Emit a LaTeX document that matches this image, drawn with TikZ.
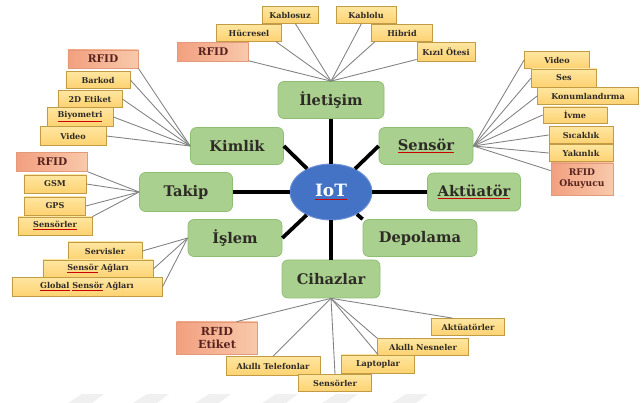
\documentclass[tikz,border=0pt]{standalone}
\usepackage{fontspec}
\setmainfont{DejaVu Serif}
\usetikzlibrary{shapes.geometric}

\definecolor{txt}{HTML}{2E2A26}
\definecolor{groupfill}{HTML}{A9D08E}
\definecolor{groupline}{HTML}{8EBE72}
\definecolor{hubfill}{HTML}{4472C4}
\definecolor{hubline}{HTML}{6F93D8}
\definecolor{leaftop}{HTML}{FFE6A0}
\definecolor{leafbot}{HTML}{FDD271}
\definecolor{leafline}{HTML}{C29B45}
\definecolor{tagleft}{HTML}{F2A07F}
\definecolor{tagright}{HTML}{F8C9AB}
\definecolor{tagline}{HTML}{E39A7A}
\definecolor{twigline}{HTML}{828282}

% red squiggle under words the spell checker marked
\newcommand\spellmark[2][txt]{{\color{red!80!black}\underline{\color{#1}#2}}}

\tikzset{
  hub/.style={ellipse, draw=hubline, fill=hubfill, line width=0.8pt,
    minimum width=2.46cm, minimum height=1.68cm, inner sep=0pt,
    font=\fontsize{14.5}{16}\selectfont\bfseries, text=white},
  group/.style={rectangle, rounded corners=5pt, draw=groupline, fill=groupfill,
    line width=0.6pt, inner sep=0pt, minimum width=2.82cm, minimum height=1.11cm,
    font=\fontsize{12.5}{14}\selectfont\bfseries, text=txt},
  leaf/.style={rectangle, draw=leafline, top color=leaftop, bottom color=leafbot,
    line width=0.6pt, inner sep=0pt, minimum height=0.51cm,
    font=\fontsize{6.9}{7.5}\selectfont\bfseries, text=txt},
  tag/.style={rectangle, draw=tagline, left color=tagleft, right color=tagright,
    line width=0.6pt, inner sep=0pt, minimum height=0.57cm, align=center,
    font=\fontsize{9}{10.5}\selectfont\bfseries, text=txt!80!red},
  spoke/.style={line width=3.2pt, black},
  twig/.style={line width=0.75pt, twigline},
}

\begin{document}
\begin{tikzpicture}[x=0.03cm, y=-0.03cm]
  \useasboundingbox (0,0) rectangle (643,403);

  % faint chevrons along the bottom edge
  \foreach \xa in {68,133,195,262,322,392}
    \fill [black!6] (\xa,403) -- (\xa+14,394) -- (\xa+36,394) -- (\xa+24,403) -- cycle;%

  % Drawing the centre and the eight groups
  \node [hub] (iot) at (331,192) {\spellmark[white]{IoT}};%
  \node [group, minimum width=3.18cm] (iletisim) at (331,100) {İletişim};%
  \node [group, minimum width=2.79cm] (kimlik) at (237,146) {Kimlik};%
  \node [group] (sensor) at (426,146) {\spellmark{Sensör}};%
  \node [group, minimum width=2.79cm, minimum height=1.17cm] (takip) at (186,192) {Takip};%
  \node [group, minimum width=2.79cm, minimum height=1.14cm] (aktuator) at (474,192) {\spellmark{Aktüatör}};%
  \node [group] (islem) at (235,238) {İşlem};%
  \node [group, minimum width=3.42cm] (depolama) at (420,238) {Depolama};%
  \node [group, minimum width=2.94cm, minimum height=1.14cm] (cihazlar) at (331,279) {Cihazlar};%

  % Drawing spokes from the centre
  \draw [spoke] (iot) -- (iletisim);%
  \draw [spoke] (iot) -- (kimlik.east);%
  \draw [spoke] (iot) -- (sensor.west);%
  \draw [spoke] (iot) -- (takip);%
  \draw [spoke] (iot) -- (aktuator);%
  \draw [spoke] (iot) -- (islem.east);%
  \draw [spoke] (iot) -- (depolama.north west);%
  \draw [spoke] (iot) -- (cihazlar);%

  % Drawing group Iletisim
  \node [leaf, minimum width=1.68cm] (kablosuz) at (290,15) {Kablosuz};%
  \node [leaf, minimum width=1.80cm] (kablolu) at (366,15) {Kablolu};%
  \node [leaf, minimum width=1.95cm] (hucresel) at (249,33) {Hücresel};%
  \node [leaf, minimum width=1.83cm] (hibrid) at (402,33) {Hibrid};%
  \node [tag, minimum width=2.13cm] (rfidA) at (213,52) {RFID};%
  \node [leaf, minimum width=1.74cm, minimum height=0.57cm] (kizil) at (446,52) {Kızıl Ötesi};%
  \foreach \n in {kablosuz,kablolu,rfidA,kizil}
    \draw [twig] (\n) -- (iletisim.north);%
  \draw [twig] (hucresel.-18) -- (iletisim.north);%
  \draw [twig] (hibrid.-162) -- (iletisim.north);%

  % Drawing group Kimlik
  \node [tag, minimum width=2.10cm, minimum height=0.54cm] (rfidB) at (103,59) {RFID};%
  \node [leaf, minimum width=1.92cm] (barkod) at (98,80) {Barkod};%
  \node [leaf, minimum width=1.92cm] (etiket) at (90,99) {2D Etiket};%
  \node [leaf, minimum width=1.98cm, minimum height=0.57cm] (biyometri) at (80,117) {\spellmark{Biyometri}};%
  \node [leaf, minimum width=1.98cm, minimum height=0.57cm] (videoA) at (73,136) {Video};%
  \draw [twig] (rfidB.south east) -- (kimlik.west);%
  \foreach \n in {barkod,etiket,biyometri,videoA}
    \draw [twig] (\n.east) -- (kimlik.west);%

  % Drawing group Takip
  \node [tag, minimum width=2.13cm] (rfidC) at (52,162) {RFID};%
  \node [leaf, minimum width=1.86cm, minimum height=0.54cm] (gsm) at (55,184) {GSM};%
  \node [leaf, minimum width=1.83cm, minimum height=0.54cm] (gps) at (55,206) {GPS};%
  \node [leaf, minimum width=2.22cm, minimum height=0.54cm] (sensorlerA) at (55,226) {\spellmark{Sensörler}};%
  \draw [twig] (rfidC.south east) -- (takip.west);%
  \draw [twig] (gsm.east) -- (takip.west);%
  \draw [twig] (gps.east) -- (takip.west);%
  \draw [twig] (sensorlerA.north east) -- (takip.west);%

  % Drawing group Islem
  \node [leaf, minimum width=2.22cm, minimum height=0.54cm] (servisler) at (105,251) {Servisler};%
  \node [leaf, minimum width=3.30cm, minimum height=0.54cm] (agA) at (98,269) {\spellmark{Sensör} Ağları};%
  \node [leaf, minimum width=4.50cm, minimum height=0.57cm] (agB) at (87,287) {\spellmark{Global} \spellmark{Sensör} Ağları};%
  \foreach \n in {servisler,agA,agB}
    \draw [twig] (\n.east) -- (islem.west);%

  % Drawing group Sensor
  \node [leaf, minimum width=1.95cm] (videoB) at (557,60) {Video};%
  \node [leaf, minimum width=1.95cm, minimum height=0.54cm] (ses) at (564,78) {Ses};%
  \node [leaf, minimum width=3.03cm] (konum) at (588,96) {Konumlandırma};%
  \node [leaf, minimum width=1.92cm, minimum height=0.48cm] (ivme) at (575,115) {İvme};%
  \node [leaf, minimum width=1.92cm] (sicaklik) at (581,135) {Sıcaklık};%
  \node [leaf, minimum width=1.92cm] (yakinlik) at (581,153) {Yakınlık};%
  \node [tag, minimum width=1.86cm, minimum height=0.96cm, font=\fontsize{7.8}{9.2}\selectfont\bfseries] (rfidD) at (582,179) {RFID\\Okuyucu};%
  \foreach \n in {videoB,ses,konum,ivme,sicaklik,yakinlik}
    \draw [twig] (\n.west) -- (sensor.east);%
  \draw [twig] (rfidD.165) -- (sensor.east);%

  % Drawing group Cihazlar
  \node [tag, minimum width=2.43cm, minimum height=0.96cm, font=\fontsize{9.5}{11}\selectfont\bfseries] (rfidE) at (217,338) {RFID\\Etiket};%
  \node [leaf, minimum width=2.82cm, minimum height=0.57cm] (telefon) at (273,366) {Akıllı Telefonlar};%
  \node [leaf, minimum width=2.19cm] (sensorlerB) at (335,383) {Sensörler};%
  \node [leaf, minimum width=2.19cm, minimum height=0.54cm] (laptop) at (378,364) {Laptoplar};%
  \node [leaf, minimum width=2.73cm] (nesne) at (423,347) {Akıllı Nesneler};%
  \node [leaf, minimum width=2.19cm] (aktuatorler) at (468,327) {Aktüatörler};%
  \draw [twig] (rfidE.40) -- (cihazlar.south);%
  \draw [twig] (telefon.north) -- (cihazlar.south);%
  \draw [twig] (sensorlerB.north) -- (cihazlar.south);%
  \draw [twig] (laptop.north) -- (cihazlar.south);%
  \draw [twig] (nesne.north west) -- (cihazlar.south);%
  \draw [twig] (aktuatorler.150) -- (cihazlar.south);%
\end{tikzpicture}
\end{document}
